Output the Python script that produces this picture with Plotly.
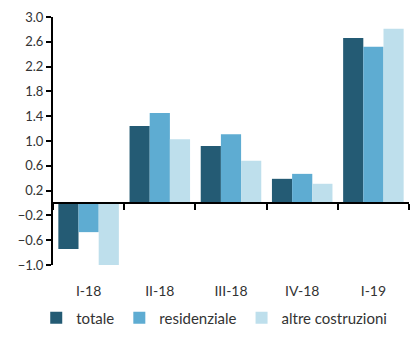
import plotly.graph_objects as go

# Quarters and quarterly percentage changes in construction investment
categories = ["I-18", "II-18", "III-18", "IV-18", "I-19"]
totale = [-0.74, 1.24, 0.92, 0.39, 2.66]
residenziale = [-0.47, 1.45, 1.11, 0.47, 2.52]
altre_costruzioni = [-1.0, 1.03, 0.68, 0.31, 2.81]

y_ticks = [-1.0, -0.6, -0.2, 0.2, 0.6, 1.0, 1.4, 1.8, 2.2, 2.6, 3.0]

series = [
    ("totale", totale, "#245b74"),
    ("residenziale", residenziale, "#5eacd2"),
    ("altre costruzioni", altre_costruzioni, "#bedfec"),
]

fig = go.Figure()
for name, vals, color in series:
    fig.add_trace(go.Bar(x=categories, y=vals, name=name,
                         marker=dict(color=color, line=dict(width=0))))

# helper trace so the zero-level category axis gets drawn
fig.add_trace(go.Scatter(x=categories, y=[None] * len(categories), xaxis="x2",
                         showlegend=False, hoverinfo="skip", mode="markers"))

font_family = "Lato, 'Noto Sans', sans-serif"

fig.update_layout(
    width=416, height=340,
    margin=dict(l=53, r=7, t=17, b=75, autoexpand=False),
    paper_bgcolor="white", plot_bgcolor="white",
    barmode="group", bargap=0.15, bargroupgap=0,
    font=dict(family=font_family, color="#333333", size=12),
    showlegend=True,
    legend=dict(orientation="h", x=0.515, xref="container", xanchor="center",
                y=0.065, yref="container", yanchor="middle",
                font=dict(size=15, color="#333333"),
                itemwidth=30, traceorder="normal"),
    xaxis=dict(type="category", showline=False, ticks="", showgrid=False,
               tickfont=dict(size=14, color="#333333"), ticklabelstandoff=16),
    xaxis2=dict(type="category", overlaying="x", matches="x", anchor="free",
                position=0.25, side="bottom",
                showline=True, linecolor="black", linewidth=2,
                ticks="outside", tickson="boundaries", ticklen=6, tickwidth=2,
                tickcolor="black", showticklabels=False, showgrid=False),
    yaxis=dict(range=[-1.0, 3.0], tickvals=y_ticks, tickformat=".1f",
               showline=True, linecolor="black", linewidth=2,
               ticks="outside", ticklen=5, tickwidth=2, tickcolor="black",
               showgrid=False, zeroline=False,
               tickfont=dict(size=13, color="#333333")),
)

fig.write_html("out.html")
